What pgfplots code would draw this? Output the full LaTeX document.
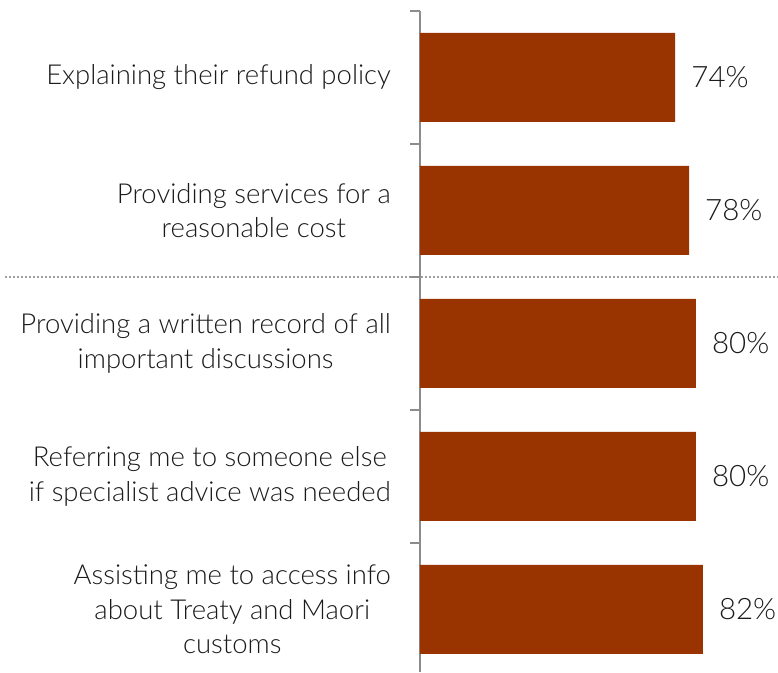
\documentclass[border=0pt]{standalone}
\usepackage{pgfplots}
\pgfplotsset{compat=1.18}
\usepackage{fontspec}
\setmainfont{Lato}[UprightFont=* Light]
\definecolor{barc}{HTML}{993300}
\definecolor{axc}{HTML}{8C8C8C}
\definecolor{dotc}{HTML}{A0A0A0}
\definecolor{txt}{HTML}{1A1A1A}
\begin{document}
\begin{tikzpicture}
\begin{axis}[
  name=ax,
  scale only axis,
  width=358pt, height=661pt,
  xmin=0, xmax=103.8,
  ymin=-0.47, ymax=4.5,
  xbar, bar width=89pt, bar shift=0pt,
  axis x line=none,
  axis y line=left,
  y axis line style={-, draw=axc, line width=1.5pt},
  xtick=\empty,
  ytick={0,1,2,3,4},
  yticklabels={{Assisting me to access info\\about Treaty and Maori\\customs},
               {Referring me to someone else\\if specialist advice was needed},
               {Providing a written record of all\\important discussions},
               {Providing services for a\\reasonable cost},
               {Explaining their refund policy}},
  ytick style={draw=none},
  major tick length=0pt,
  yticklabel style={align=center, inner sep=0pt, anchor=east, xshift=-29pt,
    font=\fontsize{27.5}{34.5}\selectfont, text=txt},
  /pgf/number format/assume math mode=true,
  nodes near coords={\pgfmathprintnumber{\pgfplotspointmeta}\%},
  nodes near coords style={anchor=west, inner sep=0pt, xshift=16pt,
    font=\fontsize{29.5}{34}\selectfont, text=txt},
  clip=false,
]
\addplot[fill=barc, draw=none] coordinates {(82,0) (80,1) (80,2) (78,3) (74,4)};
\draw[draw=dotc, line width=2pt, dash pattern=on 2pt off 2pt] (axis cs:-120.3,2.5) -- (axis cs:103.8,2.5);
\draw[axc, line width=1.5pt] (axis cs:0,0.5) -- ++(-10pt,0pt);
\draw[axc, line width=1.5pt] (axis cs:0,1.5) -- ++(-10pt,0pt);
\draw[axc, line width=1.5pt] (axis cs:0,2.5) -- ++(-10pt,0pt);
\draw[axc, line width=1.5pt] (axis cs:0,3.5) -- ++(-10pt,0pt);
\draw[axc, line width=1.5pt] (axis cs:0,4.5) -- ++(-10pt,0pt);
\end{axis}
\pgfresetboundingbox
\path ([xshift=-420pt]ax.south west) rectangle ([yshift=11pt]ax.north east);
\end{tikzpicture}
\end{document}
